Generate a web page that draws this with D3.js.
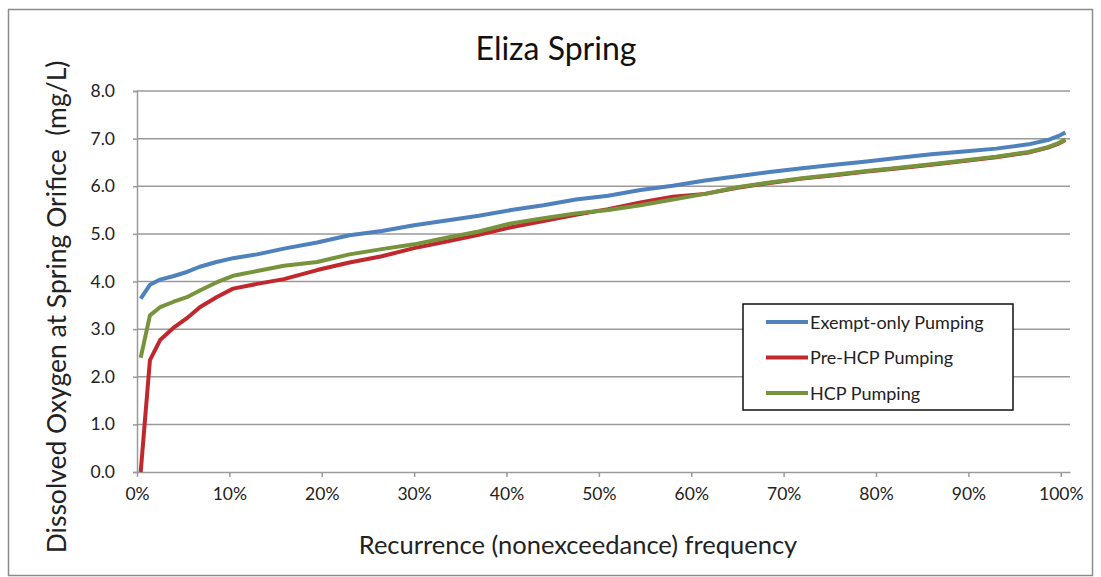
<!DOCTYPE html>
<html>
<head>
<meta charset="utf-8">
<script src="https://cdn.jsdelivr.net/npm/d3@7"></script>
<style>
  html, body { margin: 0; padding: 0; background: #fff; }
  svg { display: block; font-family: Lato, "Open Sans", sans-serif; }
</style>
</head>
<body>
<svg id="chart" width="1101" height="577"></svg>
<script>
// Recurrence (nonexceedance) frequency, in %
const freq = [0.4, 1.4, 2.5, 3.9, 5.4, 6.8, 8.6, 10.4, 13, 15.9, 19.5, 23, 26.5, 30, 33.5, 37, 40.5, 44, 47.5, 51, 54.5, 58, 61.5, 65, 68.5, 72, 75.5, 79, 82.5, 86, 89.5, 93, 96.5, 98.6, 99.7, 100.5];
const exemptOnly = [3.64, 3.93, 4.04, 4.11, 4.20, 4.31, 4.41, 4.49, 4.57, 4.69, 4.82, 4.97, 5.06, 5.18, 5.28, 5.38, 5.50, 5.60, 5.72, 5.80, 5.92, 6.01, 6.12, 6.21, 6.30, 6.38, 6.45, 6.52, 6.60, 6.67, 6.73, 6.79, 6.88, 6.97, 7.05, 7.13];
const preHCP = [0.0, 2.35, 2.77, 3.02, 3.23, 3.46, 3.67, 3.85, 3.95, 4.05, 4.24, 4.40, 4.53, 4.70, 4.84, 4.98, 5.14, 5.27, 5.40, 5.52, 5.66, 5.78, 5.84, 5.97, 6.07, 6.16, 6.23, 6.31, 6.38, 6.45, 6.53, 6.61, 6.71, 6.81, 6.89, 6.97];
const hcp = [2.40, 3.29, 3.46, 3.57, 3.67, 3.81, 3.98, 4.12, 4.22, 4.33, 4.41, 4.57, 4.68, 4.78, 4.92, 5.05, 5.22, 5.33, 5.43, 5.50, 5.60, 5.72, 5.84, 5.98, 6.08, 6.17, 6.24, 6.32, 6.39, 6.46, 6.54, 6.62, 6.72, 6.82, 6.90, 6.98];

const seriesNames = ["Exempt-only Pumping", "Pre-HCP Pumping", "HCP Pumping"];
const seriesColors = ["#4F81BD", "#C0282D", "#77933C"];
const yTicks = [0, 1, 2, 3, 4, 5, 6, 7, 8];
const xTicks = [0, 10, 20, 30, 40, 50, 60, 70, 80, 90, 100];

const title = "Eliza Spring";
const xTitle = "Recurrence (nonexceedance) frequency";
const yTitle = "Dissolved Oxygen at Spring Orifice\u00A0 (mg/L)";

const svg = d3.select("#chart");
const plotLeft = 137, plotRight = 1070, plotTop = 91, plotBottom = 472;

const x = d3.scaleLinear().domain([0, 101]).range([plotLeft, plotRight]);
const y = d3.scaleLinear().domain([0, 8]).range([plotBottom, plotTop]);

// outer border
svg.append("rect").attr("x", 8.5).attr("y", 9.5).attr("width", 1084).attr("height", 566)
  .attr("fill", "#fff").attr("stroke", "#8c8c8c").attr("stroke-width", 1.5);

// gridlines
svg.append("g").selectAll("line").data(yTicks.filter(d => d > 0)).join("line")
  .attr("x1", plotLeft).attr("x2", plotRight)
  .attr("y1", d => y(d)).attr("y2", d => y(d))
  .attr("stroke", "#9a9a9a").attr("stroke-width", 1.5);

// y axis
const yAxis = svg.append("g").attr("transform", `translate(${plotLeft},0)`)
  .call(d3.axisLeft(y).tickValues(yTicks).tickFormat(d3.format(".1f")).tickSize(4).tickPadding(18));
yAxis.select(".domain").attr("stroke", "#9a9a9a").attr("stroke-width", 1.5);
yAxis.selectAll(".tick line").attr("stroke", "#9a9a9a").attr("stroke-width", 1.5);
yAxis.selectAll(".tick text").attr("font-size", 17.5).attr("fill", "#222").attr("font-family", "Lato, sans-serif");

// x axis
const xAxis = svg.append("g").attr("transform", `translate(0,${plotBottom})`)
  .call(d3.axisBottom(x).tickValues(xTicks).tickFormat(d => d + "%").tickSizeInner(5).tickSizeOuter(0).tickPadding(11));
xAxis.select(".domain").attr("stroke", "#9a9a9a").attr("stroke-width", 1.5);
xAxis.selectAll(".tick line").attr("stroke", "#9a9a9a").attr("stroke-width", 1.5);
xAxis.selectAll(".tick text").attr("font-size", 17.5).attr("fill", "#222").attr("font-family", "Lato, sans-serif");

// lines
const allSeries = [exemptOnly, preHCP, hcp];
const line = d3.line().x((d, i) => x(freq[i])).y(d => y(d));
svg.append("g").selectAll("path").data(allSeries).join("path")
  .attr("d", d => line(d))
  .attr("fill", "none")
  .attr("stroke", (d, i) => seriesColors[i])
  .attr("stroke-width", 4)
  .attr("stroke-linejoin", "round");

// title
svg.append("text").attr("x", 556).attr("y", 60).attr("text-anchor", "middle")
  .attr("font-size", 32).attr("fill", "#111").text(title);

// x title
svg.append("text").attr("x", 578).attr("y", 554).attr("text-anchor", "middle")
  .attr("font-size", 25.5).attr("fill", "#222").text(xTitle);

// y title
svg.append("text").attr("transform", "translate(66,307) rotate(-90)").attr("text-anchor", "middle")
  .attr("font-size", 26.5).attr("fill", "#222").text(yTitle);

// legend
const lg = svg.append("g");
lg.append("rect").attr("x", 743).attr("y", 304).attr("width", 270).attr("height", 106)
  .attr("fill", "#fff").attr("stroke", "#111").attr("stroke-width", 1.5);
const rows = lg.selectAll("g.row").data(seriesNames).join("g")
  .attr("transform", (d, i) => `translate(0,${322 + i * 35.5})`);
rows.append("line").attr("x1", 766).attr("x2", 808).attr("y1", 0).attr("y2", 0)
  .attr("stroke", (d, i) => seriesColors[i]).attr("stroke-width", 4);
rows.append("text").attr("x", 810).attr("y", 6.5).attr("font-size", 18).attr("fill", "#222").text(d => d);
</script>
</body>
</html>
